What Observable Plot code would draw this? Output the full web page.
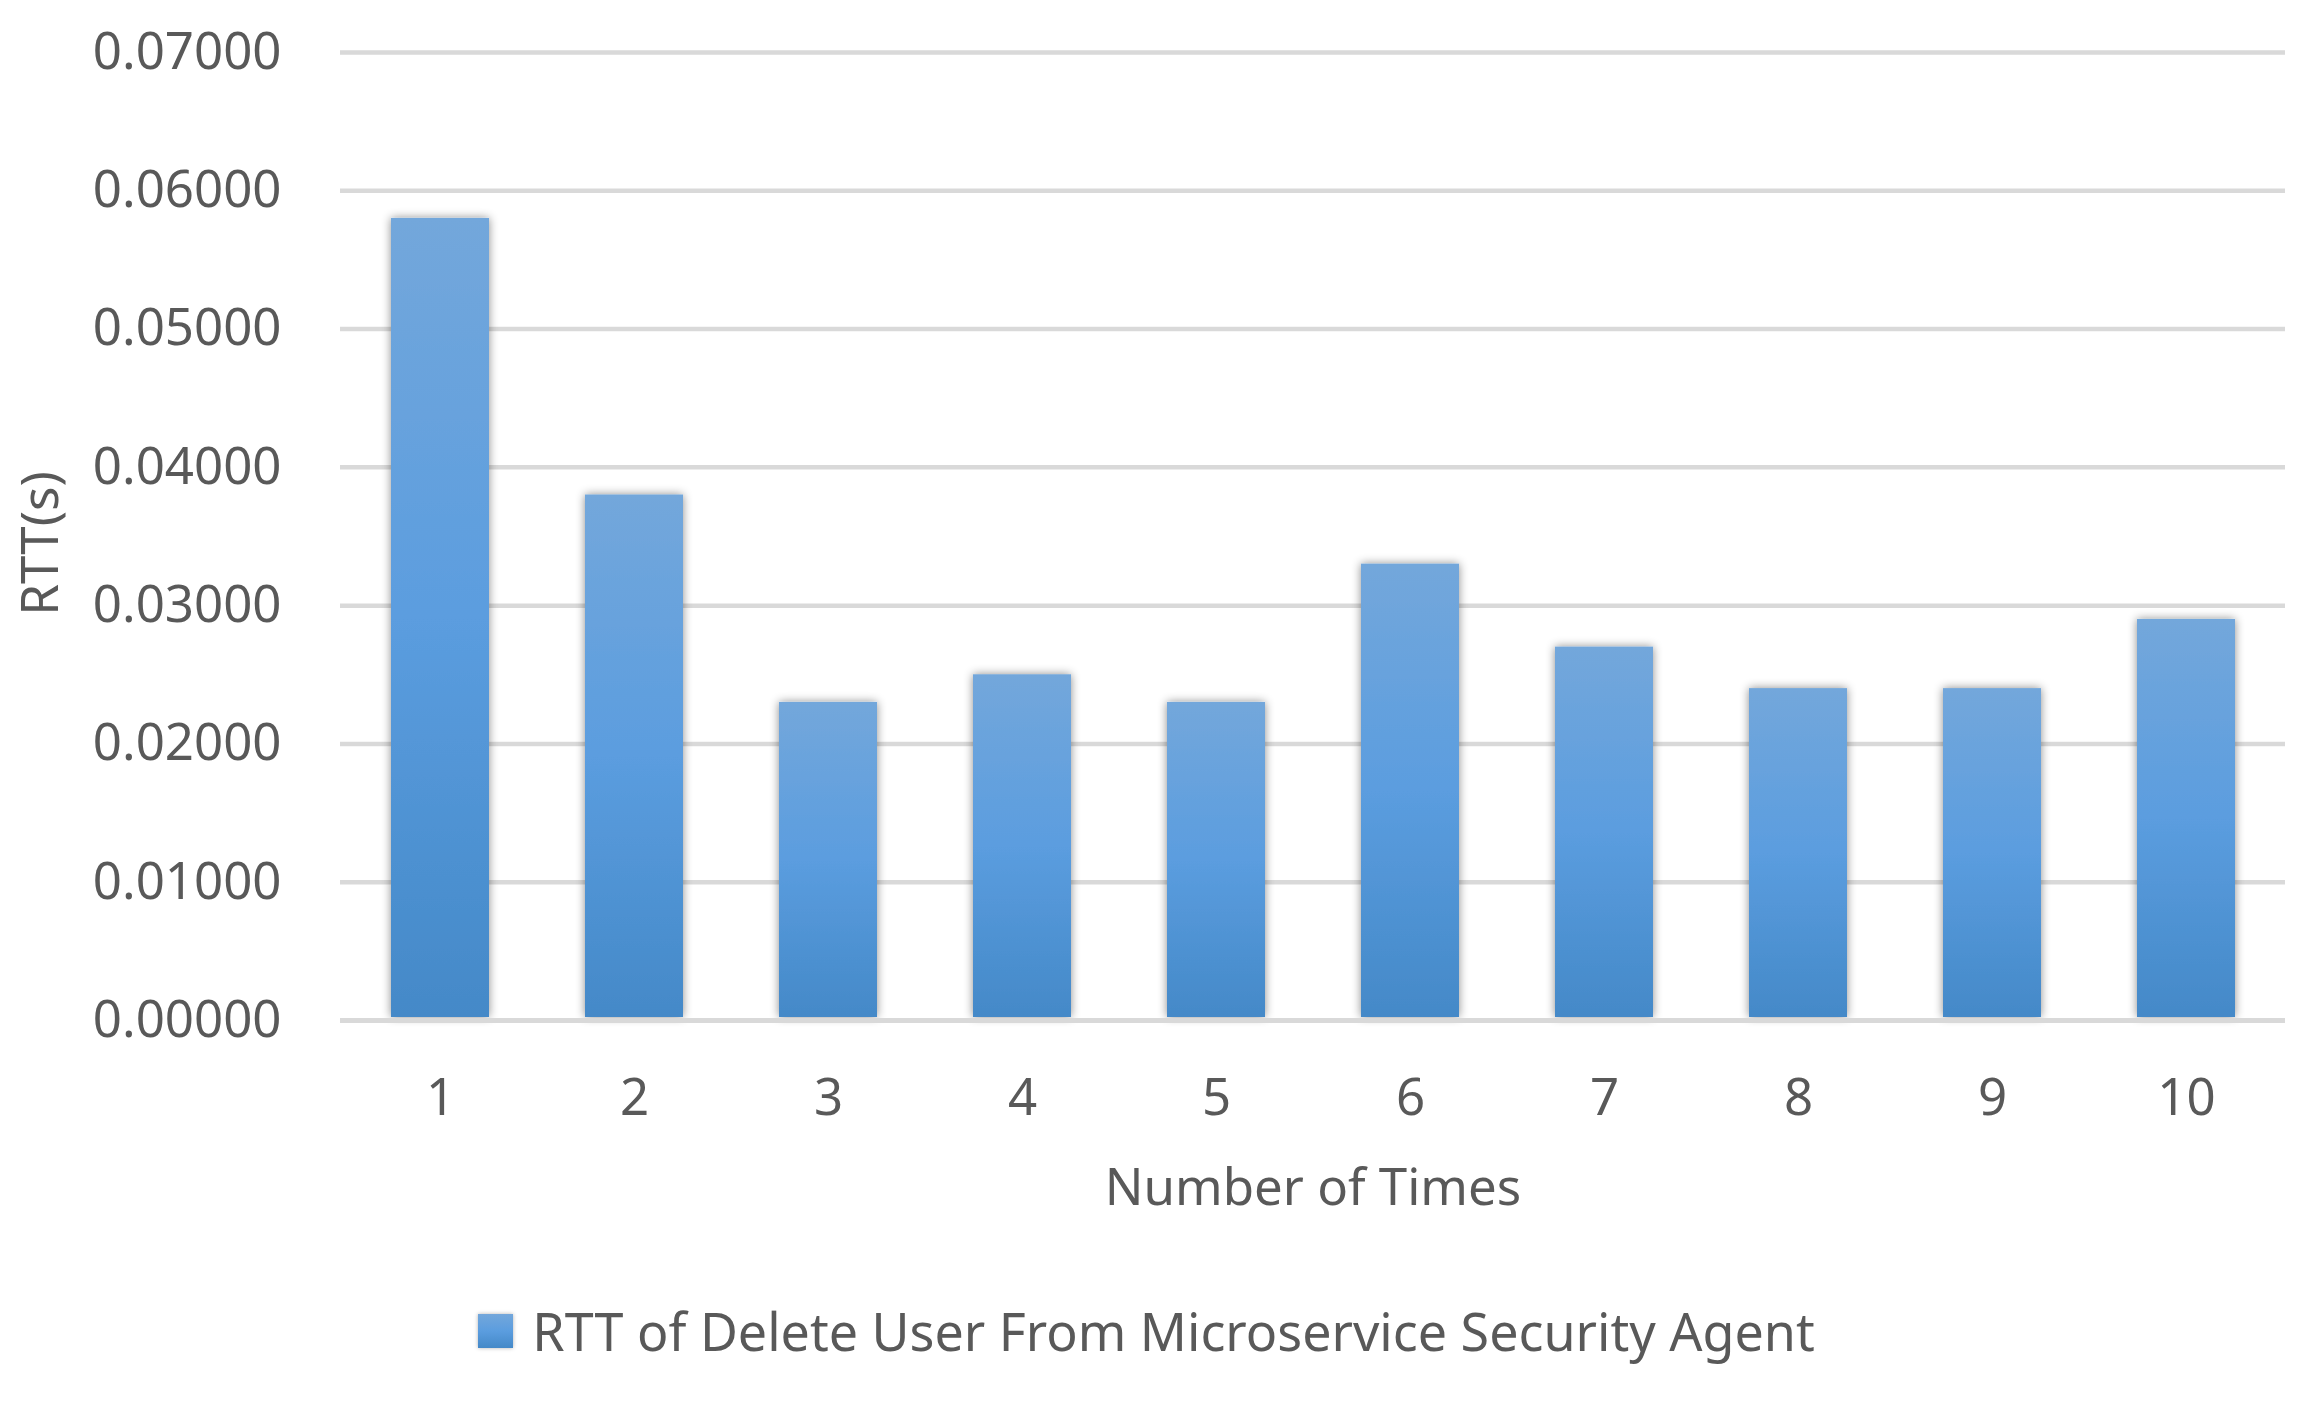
<!DOCTYPE html>
<html>
<head>
<meta charset="utf-8">
<script src="https://cdn.jsdelivr.net/npm/d3@7"></script>
<script src="https://cdn.jsdelivr.net/npm/@observablehq/plot@0.6"></script>
<style>
  html, body { margin: 0; padding: 0; background: #fff; }
  body { width: 2313px; height: 1402px; overflow: hidden; font-family: "Noto Sans", sans-serif; color: #595959; }
  #legend { height: 142px; display: flex; align-items: center; justify-content: center; padding-right: 20px; box-sizing: border-box; }
  #legend .sw { width: 35px; height: 34px; background: linear-gradient(#73a7db, #5b9ddf 50%, #4489c8); margin-right: 19px; box-shadow: 0 0 4px rgba(0,0,0,0.3); }
  #legend .tx { font-size: 52px; line-height: 52px; white-space: nowrap; }
</style>
</head>
<body>
<div id="chart"></div>
<div id="legend"><div class="sw"></div><div class="tx"></div></div>
<script>
const times = ["1", "2", "3", "4", "5", "6", "7", "8", "9", "10"];
const rtt = [0.058, 0.038, 0.023, 0.025, 0.023, 0.033, 0.027, 0.024, 0.024, 0.029];
const yTicks = [0, 0.01, 0.02, 0.03, 0.04, 0.05, 0.06, 0.07];
const seriesName = "RTT of Delete User From Microservice Security Agent";
const xTitle = "Number of Times";
const yTitle = "RTT(s)";

const data = times.map((t, i) => ({time: t, value: rtt[i]}));

const W = 2313, H = 1260;
const plot = Plot.plot({
  width: W,
  height: H,
  marginLeft: 340,
  marginRight: 28,
  marginTop: 52,
  marginBottom: 240,
  style: {fontFamily: "'Noto Sans', sans-serif", fontSize: "51px", color: "#595959", background: "#fff"},
  x: {domain: times, type: "band", paddingInner: 0.495, paddingOuter: 0.2475, axis: null},
  y: {domain: [0, 0.07], axis: null},
  marks: [
    Plot.gridY(yTicks, {stroke: "#d9d9d9", strokeOpacity: 1, strokeWidth: 4.5}),
    Plot.barY(data, {x: "time", y: "value", fill: "url(#barGrad)", insetBottom: 3}),
    Plot.ruleY([0], {stroke: "#d9d9d9", strokeWidth: 5}),
    Plot.axisY(yTicks, {tickSize: 0, tickPadding: 59, tickFormat: d3.format(".5f"), fill: "#595959", fontSize: 51, label: null}),
    Plot.axisX(times, {tickSize: 0, tickPadding: 58, fill: "#595959", fontSize: 51, label: null}),
    Plot.text([xTitle], {frameAnchor: "bottom", dy: 168, lineAnchor: "middle", fill: "#595959", fontSize: 51}),
    Plot.text([yTitle], {frameAnchor: "left", textAnchor: "middle", dx: -299, dy: 7, rotate: -90, lineAnchor: "middle", fill: "#595959", fontSize: 51})
  ]
});

const ns = "http://www.w3.org/2000/svg";
const defs = document.createElementNS(ns, "defs");
defs.innerHTML = `
  <linearGradient id="barGrad" x1="0" y1="0" x2="0" y2="1">
    <stop offset="0" stop-color="#73a7db"/>
    <stop offset="0.5" stop-color="#5b9ddf"/>
    <stop offset="1" stop-color="#4489c8"/>
  </linearGradient>
  <filter id="barShadow" x="-30%" y="-10%" width="160%" height="120%">
    <feDropShadow dx="0" dy="0" stdDeviation="5" flood-color="#000" flood-opacity="0.45"/>
  </filter>`;
plot.insertBefore(defs, plot.firstChild);
const barG = plot.querySelector('g[aria-label="bar"]');
if (barG) barG.setAttribute("filter", "url(#barShadow)");

document.getElementById("chart").appendChild(plot);
document.querySelector("#legend .tx").textContent = seriesName;
</script>
</body>
</html>
